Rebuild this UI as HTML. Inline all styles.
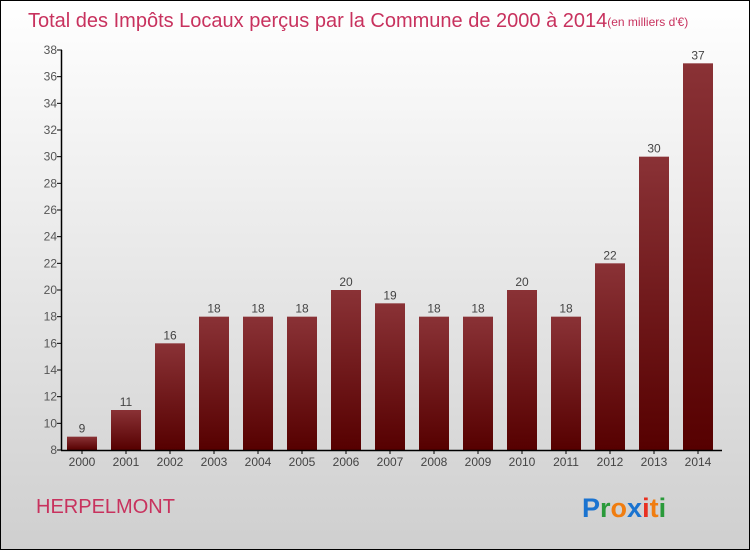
<!DOCTYPE html>
<html><head><meta charset="utf-8"><style>
html,body{margin:0;padding:0}
body{width:750px;height:550px;overflow:hidden;font-family:"Liberation Sans",sans-serif}
#wrap{position:absolute;left:0;top:0;width:748px;height:548px;border:1px solid #000;background:linear-gradient(#ffffff,#cfcfcf)}
</style></head><body>
<div id="wrap">
<svg id="chart" width="750" height="550" style="position:absolute;left:-1px;top:-1px">
<defs><linearGradient id="bg" x1="0" y1="0" x2="0" y2="1"><stop offset="0" stop-color="#8a3236"/><stop offset="1" stop-color="#560000"/></linearGradient></defs>
<text x="28" y="27" font-size="20" fill="#c8325e">Total des Impôts Locaux perçus par la Commune de 2000 à 2014<tspan font-size="12" dy="-1">(en milliers d'€)</tspan></text>
<text x="36" y="513" font-size="20" fill="#c8325e">HERPELMONT</text>
<text x="582" y="517" font-size="27" font-weight="bold"><tspan fill="#1a73d0">P</tspan><tspan fill="#2a9a3a">r</tspan><tspan fill="#f07d10">o</tspan><tspan fill="#1a73d0">x</tspan><tspan fill="#e83020">i</tspan><tspan fill="#f07d10">t</tspan><tspan fill="#2a9a3a">i</tspan></text>
<g id="plot"></g>
</svg></div>
<script>
const years=["2000","2001","2002","2003","2004","2005","2006","2007","2008","2009","2010","2011","2012","2013","2014"];
const values=[9,11,16,18,18,18,20,19,18,18,20,18,22,30,37];
const ticks=[8,10,12,14,16,18,20,22,24,26,28,30,32,34,36,38];
const NS="http://www.w3.org/2000/svg";
const g=document.getElementById('plot');
const y=v=>450-(v-8)*(400/30);
const x=i=>82+i*44;
function mk(t,a){const e=document.createElementNS(NS,t);for(const k in a)e.setAttribute(k,a[k]);g.appendChild(e);return e;}
values.forEach((v,i)=>{
 const r=mk('rect',{x:x(i)-15,y:y(v),width:30,height:450-y(v),fill:'url(#bg)'});
 
 
 const t=mk('text',{x:x(i),y:y(v)-4,'font-size':12,'text-anchor':'middle',fill:'#444'});t.textContent=v;
 
 
 const xl=mk('text',{x:x(i),y:466,'font-size':12,'text-anchor':'middle',fill:'#444'});xl.textContent=years[i];
 
 
});
ticks.forEach(v=>{
 mk('line',{x1:57,x2:62,y1:y(v),y2:y(v),stroke:'#000'});
 const t=mk('text',{x:57,y:y(v)+4,'font-size':12,'text-anchor':'end',fill:'#555'});t.textContent=v;
 
 
});
const ya=mk('line',{x1:61.5,x2:61.5,y1:y(38),y2:450.5,stroke:'#000','stroke-width':1.5});


const xa=mk('line',{x1:61,x2:722,y1:450.5,y2:450.5,stroke:'#000','stroke-width':1.5});


years.forEach((_,i)=>mk('line',{x1:x(i),x2:x(i),y1:450,y2:454,stroke:'#000'}));
</script>
</body></html>
